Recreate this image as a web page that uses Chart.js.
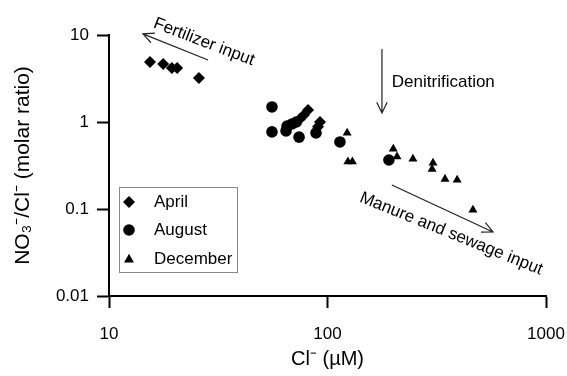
<!DOCTYPE html>
<html>
<head>
<meta charset="utf-8">
<script src="https://cdn.jsdelivr.net/npm/chart.js@4.4.1/dist/chart.umd.min.js"></script>
<style>
  html, body { margin: 0; padding: 0; background: #fff; }
  #wrap { width: 567px; height: 376px; }
</style>
</head>
<body>
<div id="wrap"><canvas id="myChart" width="567" height="376"></canvas></div>
<script>
// Cl- (uM) and NO3-/Cl- molar ratio, one pair of arrays per sampling month
var aprilCl       = [15.4, 17.7, 19.4, 20.5, 25.8, 74.8, 78, 81.5, 90.5, 92.4];
var aprilRatio    = [4.9, 4.64, 4.18, 4.18, 3.2, 1.08, 1.2, 1.37, 0.88, 1.0];
var augustCl      = [55.7, 55.7, 64.6, 65.3, 68.8, 72, 74.1, 88.6, 114, 191];
var augustRatio   = [1.49, 0.77, 0.79, 0.9, 0.95, 1.0, 0.67, 0.75, 0.59, 0.366];
var decemberCl    = [123, 124, 130, 200, 208, 246, 304, 301, 345, 392, 463];
var decemberRatio = [0.75, 0.35, 0.35, 0.49, 0.4, 0.376, 0.338, 0.288, 0.221, 0.216, 0.0975];

var seriesNames = ['April', 'August', 'December'];
var xTicks = [10, 100, 1000];
var yTicks = [0.01, 0.1, 1, 10];

var FONT = 'Arial, "Liberation Sans", sans-serif';

function pairs(xs, ys) {
    return xs.map(function (x, i) { return { x: x, y: ys[i] }; });
}

// draw one marker shape
function marker(ctx, style, x, y, r) {
    ctx.beginPath();
    if (style === 'rectRot') {
        ctx.moveTo(x, y - r); ctx.lineTo(x + r, y); ctx.lineTo(x, y + r); ctx.lineTo(x - r, y);
    } else if (style === 'triangle') {
        ctx.moveTo(x, y - r); ctx.lineTo(x + r * 0.95, y + r * 0.65); ctx.lineTo(x - r * 0.95, y + r * 0.65);
    } else {
        ctx.arc(x, y, r, 0, Math.PI * 2);
    }
    ctx.closePath();
    ctx.fill();
}

function arrow(ctx, x1, y1, x2, y2) {
    var a = Math.atan2(y2 - y1, x2 - x1), h = 12, s = 0.45;
    ctx.beginPath();
    ctx.moveTo(x1, y1); ctx.lineTo(x2, y2);
    ctx.moveTo(x2 - h * Math.cos(a - s), y2 - h * Math.sin(a - s));
    ctx.lineTo(x2, y2);
    ctx.lineTo(x2 - h * Math.cos(a + s), y2 - h * Math.sin(a + s));
    ctx.stroke();
}

// annotations, anchored in data units
var notes = [
    { type: 'arrow', from: [28.4, 5.16], to: [14.3, 10.3] },
    { type: 'text', at: [27.2, 8.3], text: 'Fertilizer input', angle: 21, align: 'center' },
    { type: 'arrow', from: [177.5, 6.9], to: [177.5, 1.27] },
    { type: 'text', at: [197, 2.88], text: 'Denitrification', angle: 0, align: 'left' },
    { type: 'arrow', from: [197, 0.189], to: [572, 0.0545] },
    { type: 'text', at: [368, 0.052], text: 'Manure and sewage input', angle: 22, align: 'center' }
];

var extras = {
    id: 'extras',
    afterDatasetsDraw: function (chart) {
        var ctx = chart.ctx, sx = chart.scales.x, sy = chart.scales.y;
        ctx.save();
        ctx.strokeStyle = '#222';
        ctx.fillStyle = '#000';
        ctx.lineWidth = 1.2;
        ctx.font = '17px ' + FONT;
        notes.forEach(function (n) {
            if (n.type === 'arrow') {
                arrow(ctx, sx.getPixelForValue(n.from[0]), sy.getPixelForValue(n.from[1]),
                      sx.getPixelForValue(n.to[0]), sy.getPixelForValue(n.to[1]));
            } else {
                ctx.save();
                ctx.translate(sx.getPixelForValue(n.at[0]), sy.getPixelForValue(n.at[1]));
                ctx.rotate(n.angle * Math.PI / 180);
                ctx.textAlign = n.align;
                ctx.textBaseline = 'middle';
                ctx.fillText(n.text, 0, 0);
                ctx.restore();
            }
        });

        // legend box inside the plot
        var left = chart.chartArea.left + 10, top = 187;
        ctx.strokeStyle = '#888';
        ctx.lineWidth = 1;
        ctx.strokeRect(left + 0.5, top + 0.5, 118, 85);
        var rows = [15, 43, 72];
        chart.data.datasets.forEach(function (ds, i) {
            ctx.fillStyle = '#000';
            marker(ctx, ds.pointStyle, left + 10, top + rows[i], ds.pointRadius);
            ctx.textAlign = 'left';
            ctx.textBaseline = 'middle';
            ctx.fillText(ds.label, left + 35, top + rows[i]);
        });
        ctx.restore();
    }
};

var ctx = document.getElementById('myChart').getContext('2d');
var chart = new Chart(ctx, {
    type: 'scatter',
    data: {
        datasets: [
            { label: seriesNames[0], data: pairs(aprilCl, aprilRatio), pointStyle: 'rectRot', pointRadius: 6,
              backgroundColor: '#000', borderColor: '#000', borderWidth: 0 },
            { label: seriesNames[1], data: pairs(augustCl, augustRatio), pointStyle: 'circle', pointRadius: 5.8,
              backgroundColor: '#000', borderColor: '#000', borderWidth: 0 },
            { label: seriesNames[2], data: pairs(decemberCl, decemberRatio), pointStyle: 'triangle', pointRadius: 5.2,
              backgroundColor: '#000', borderColor: '#000', borderWidth: 0 }
        ]
    },
    options: {
        responsive: false,
        animation: false,
        devicePixelRatio: 1,
        layout: { padding: { left: 0, top: 35, right: 21, bottom: 0 } },
        plugins: { legend: { display: false }, tooltip: { enabled: false } },
        scales: {
            x: {
                type: 'logarithmic',
                min: 10,
                max: 1000,
                afterBuildTicks: function (s) { s.ticks = xTicks.map(function (v) { return { value: v }; }); },
                afterFit: function (s) { s.height = 80; s.paddingLeft = 0; s.paddingRight = 0; },
                ticks: {
                    color: '#000', font: { family: FONT, size: 17 }, padding: 16,
                    maxRotation: 0, autoSkip: false,
                    callback: function (v) { return String(v); }
                },
                grid: { drawOnChartArea: false, color: '#000', tickLength: 12, tickWidth: 2 },
                border: { color: '#000', width: 2 },
                title: { display: true, text: 'Cl\u207B (\u00B5M)', color: '#000',
                         font: { family: FONT, size: 20 }, padding: { top: 0, bottom: 5 } }
            },
            y: {
                type: 'logarithmic',
                min: 0.01,
                max: 10,
                afterBuildTicks: function (s) { s.ticks = yTicks.map(function (v) { return { value: v }; }); },
                afterFit: function (s) { s.width = 109; s.paddingTop = 0; s.paddingBottom = 0; },
                ticks: {
                    color: '#000', font: { family: FONT, size: 17 }, padding: 8,
                    autoSkip: false,
                    callback: function (v) { return String(v); }
                },
                grid: { drawOnChartArea: false, color: '#000', tickLength: 12, tickWidth: 2 },
                border: { color: '#000', width: 2 },
                title: { display: true, text: 'NO\u2083\u207B/Cl\u207B (molar ratio)', color: '#000',
                         font: { family: FONT, size: 21 }, padding: { top: 11, bottom: 0 } }
            }
        }
    },
    plugins: [extras]
});
</script>
</body>
</html>
